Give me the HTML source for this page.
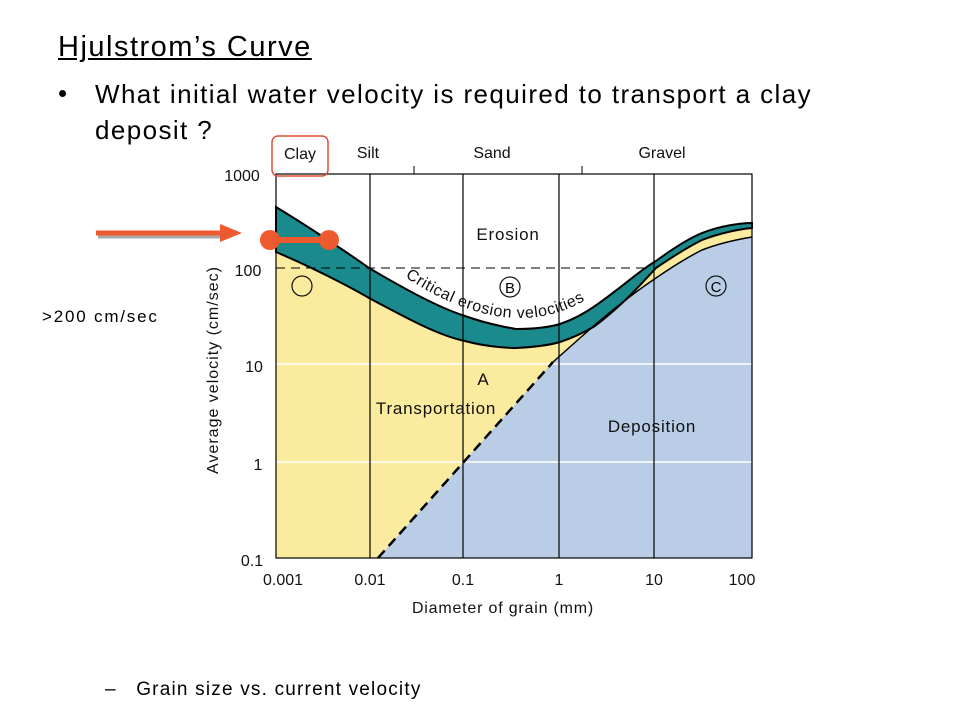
<!DOCTYPE html>
<html><head><meta charset="utf-8"><style>
body{margin:0;width:960px;height:720px;background:#fff;overflow:hidden;font-family:"Liberation Sans",sans-serif;position:relative}
.t{position:absolute;white-space:nowrap;color:#000}
</style></head><body>
<div class="t" style="left:58px;top:31px;font-size:29px;letter-spacing:1.5px;text-decoration:underline">Hjulstrom’s Curve</div>
<div class="t" style="left:58px;top:78px;font-size:26px">•</div>
<div class="t" style="left:95px;top:76px;font-size:26px;letter-spacing:1.4px;line-height:36px">What initial water velocity is required to transport a clay<br>deposit ?</div>
<div class="t" style="left:42px;top:307px;font-size:17px;letter-spacing:1.8px">&gt;200 cm/sec</div>
<div class="t" style="left:105px;top:679px;font-size:19px;letter-spacing:1.2px">–&nbsp;&nbsp; Grain size vs. current velocity</div>
<svg width="960" height="720" style="position:absolute;left:0;top:0" font-family="Liberation Sans, sans-serif">
<rect x="276" y="174" width="476" height="384" fill="#fff"/>
<path d="M276,252 C330,275 369,298 369,298 C410,320 440,336 465,341 C490,348 516,348 516,348 C535,347 550,345 560,342 C575,337 585,332 595,326 C625,303 640,285 656,268 C675,255 690,246 702,240 C720,233 740,229 752,228 L752,558 L276,558 Z" fill="#fbeb9e"/>
<path d="M378,558 L553,362 L580,338 Q620,302 656,278 C675,265 690,256 702,250 C720,243 740,239 752,237 L752,558 Z" fill="#b9cde6"/>
<line x1="276" y1="364" x2="752" y2="364" stroke="#fff" stroke-width="1.5"/>
<line x1="276" y1="462" x2="752" y2="462" stroke="#fff" stroke-width="1.5"/>
<path d="M276,207 C330,240 369,268 369,268 C410,292 440,308 465,316 C490,325 516,329 516,329 C535,329 550,327 560,324 C575,319 585,313 595,306 C625,285 640,270 656,261 C675,247 690,238 702,233 C720,226 740,223 752,223 L752,228 C740,229 720,233 702,240 C690,246 675,255 656,268 C640,285 625,303 595,326 C585,332 575,337 560,342 C550,345 535,347 516,348 C516,348 490,348 465,341 C440,336 410,320 369,298 C369,298 330,275 276,252 Z" fill="#1a8a8d" stroke="#000" stroke-width="2"/>
<path d="M553,362 L580,338 Q620,302 656,278 C675,265 690,256 702,250 C720,243 740,239 752,237" fill="none" stroke="#000" stroke-width="1.5"/>
<line x1="378" y1="558" x2="553" y2="362" stroke="#000" stroke-width="2.5" stroke-dasharray="10,6"/>
<line x1="276" y1="268" x2="645" y2="268" stroke="#000" stroke-width="1" stroke-dasharray="9,6"/>
<g stroke="#000" stroke-width="1.2">
<line x1="370" y1="174" x2="370" y2="558"/><line x1="463" y1="174" x2="463" y2="558"/>
<line x1="559" y1="174" x2="559" y2="558"/><line x1="654" y1="174" x2="654" y2="558"/>
</g>
<rect x="276" y="174" width="476" height="384" fill="none" stroke="#000" stroke-width="1.2"/>
<line x1="414" y1="174" x2="414" y2="166" stroke="#000"/><line x1="582" y1="174" x2="582" y2="166" stroke="#000"/>
<rect x="272" y="136" width="56" height="40" rx="6" fill="none" stroke="#e0503a" stroke-width="1.5"/>
<g font-size="16" fill="#111" text-anchor="middle">
<text x="300" y="159">Clay</text><text x="368" y="158">Silt</text><text x="492" y="158">Sand</text><text x="662" y="158">Gravel</text>
<text x="508" y="240" font-size="17" letter-spacing="0.8">Erosion</text>
<text x="483" y="385" font-size="17">A</text>
<text x="436" y="414" font-size="17" letter-spacing="0.8">Transportation</text>
<text x="652" y="432" font-size="17" letter-spacing="0.8">Deposition</text>
<text x="242" y="181">1000</text><text x="248" y="276">100</text><text x="254" y="372">10</text><text x="258" y="470">1</text><text x="252" y="566">0.1</text>
<text x="283" y="585">0.001</text><text x="370" y="585">0.01</text><text x="463" y="585">0.1</text><text x="559" y="585">1</text><text x="654" y="585">10</text><text x="742" y="585">100</text>
<text x="503" y="613" letter-spacing="0.8">Diameter of grain (mm)</text>
<text transform="translate(218,370) rotate(-90)" letter-spacing="1">Average velocity (cm/sec)</text>
</g>
<circle cx="302" cy="286" r="10" fill="none" stroke="#111" stroke-width="1.2"/>
<circle cx="510" cy="287" r="10" fill="none" stroke="#111" stroke-width="1.2"/>
<text x="510" y="293" font-size="15" text-anchor="middle">B</text>
<circle cx="716" cy="286" r="10" fill="none" stroke="#111" stroke-width="1.2"/>
<text x="716" y="292" font-size="15" text-anchor="middle">C</text>
<path id="cp" d="M405,277 C440,300 480,318 520,318 C555,318 580,305 605,288" fill="none"/>
<text font-size="16" fill="#111" letter-spacing="0.6"><textPath href="#cp">Critical erosion velocities</textPath></text>
<line x1="98" y1="236" x2="226" y2="236" stroke="#555" stroke-width="5" opacity=".5"/>
<line x1="96" y1="233" x2="224" y2="233" stroke="#ee5a30" stroke-width="5"/>
<polygon points="220,224 242,233 220,242" fill="#ee5a30"/>
<line x1="270" y1="240" x2="329" y2="240" stroke="#ee5a30" stroke-width="6"/>
<circle cx="270" cy="240" r="10" fill="#ee5a30"/>
<circle cx="329" cy="240" r="10" fill="#ee5a30"/>
</svg>
</body></html>
